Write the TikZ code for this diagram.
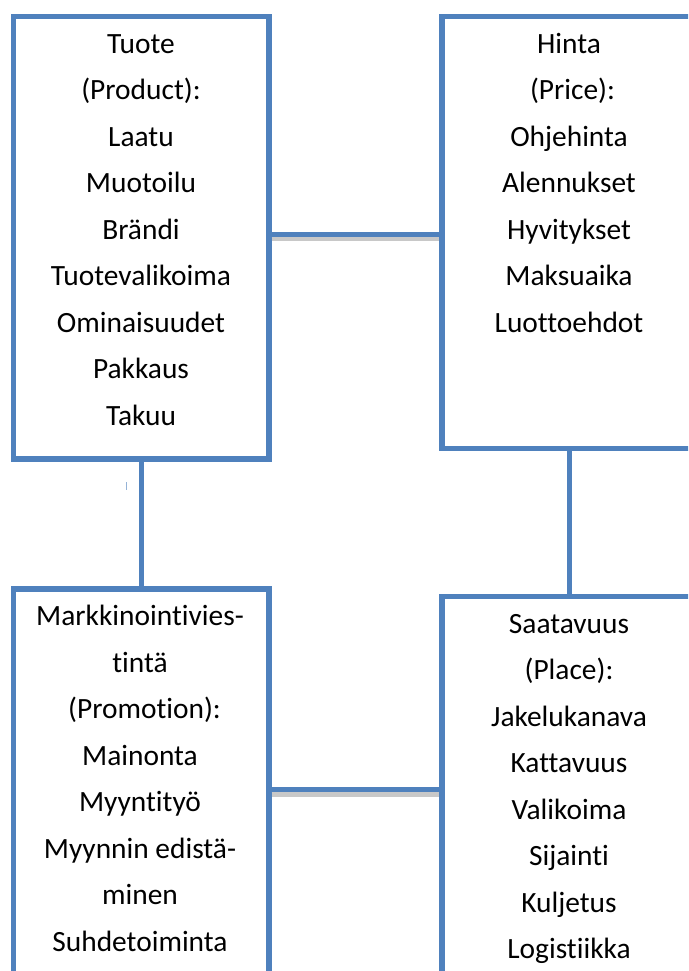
\documentclass[tikz,border=0pt]{standalone}
\usepackage{fontspec}
\setmainfont{Carlito}[Ligatures=NoCommon]
\definecolor{boxblue}{HTML}{4F81BD}
\definecolor{shadowgrey}{HTML}{C8C8C8}
\begin{document}
\begin{tikzpicture}[x=1pt,y=-1pt,
  pbox/.style={draw=boxblue, line width=5.3pt, fill=white, rectangle, inner sep=0pt},
  conn/.style={draw=boxblue, line width=5pt},
  shade/.style={draw=shadowgrey, line width=4.5pt},
  txt/.style={align=center, inner sep=0pt, font=\fontsize{29.4}{46.5}\selectfont}]
\useasboundingbox (0,0) rectangle (688,971);
\clip (0,0) rectangle (688,971);
\fill[white] (0,0) rectangle (688,971);
% boxes
\node[pbox, minimum width=255.7pt, minimum height=442.3pt] (tuote) at (141.15,237.85) {};
\node[pbox, minimum width=254pt, minimum height=431.8pt] (hinta) at (569,232.6) {};
\node[pbox, minimum width=255.7pt, minimum height=420pt] (markk) at (141.15,799) {};
\node[pbox, minimum width=254pt, minimum height=420pt] (saat) at (569,806.5) {};
% connectors with shadows
\draw[shade] (tuote.east |- 0,239) -- (hinta.west |- 0,239);
\draw[conn] (tuote.east |- 0,234.3) -- (hinta.west |- 0,234.3);
\draw[shade] (markk.east |- 0,794.5) -- (saat.west |- 0,794.5);
\draw[conn] (markk.east |- 0,789.7) -- (saat.west |- 0,789.7);
\draw[conn] (tuote.south) -- (markk.north);
\draw[conn] (hinta.south) -- (saat.north);
% stray tick
\coordinate (tickA) at (126.7,482);
\coordinate (tickB) at (126.7,490);
\draw[draw=boxblue!60, line width=1pt] (tickA) -- (tickB);
% texts (anchor=base is the baseline of the last line)
\node[txt, anchor=base] (ttuote) at (141,425.3) {Tuote\\(Product):\\Laatu\\Muotoilu\\Brändi\\Tuotevalikoima\\Ominaisuudet\\Pakkaus\\Takuu};
\node[txt, anchor=base] (thinta) at (569,332.3) {Hinta\\\hspace*{7pt}(Price):\\Ohjehinta\\Alennukset\\Hyvitykset\\Maksuaika\\Luottoehdot};
\node[txt, anchor=base] (tmarkk) at (140,951.2) {Markkinointivies-\\tintä\\\hspace*{9pt}(Promotion):\\Mainonta\\Myyntityö\\Myynnin edistä-\\minen\\Suhdetoiminta};
\node[txt, anchor=base] (tsaat) at (569,958.5) {Saatavuus\\(Place):\\Jakelukanava\\Kattavuus\\Valikoima\\Sijainti\\Kuljetus\\Logistiikka};
\end{tikzpicture}
\end{document}
